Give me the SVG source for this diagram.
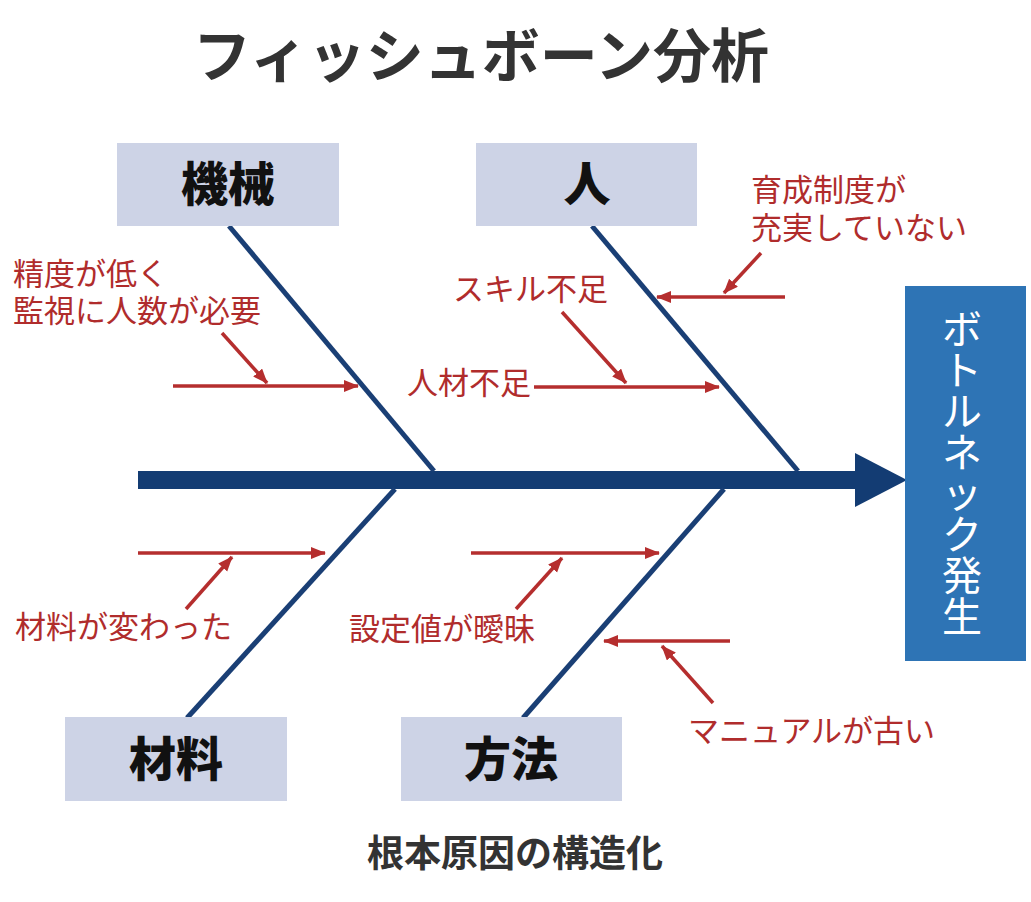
<svg xmlns="http://www.w3.org/2000/svg" width="1031" height="902" viewBox="0 0 1031 902">
<style>
.title{font-family:"Noto Sans CJK JP","Noto Sans",sans-serif;font-weight:700;fill:#333333}
.cat{fill:#cdd3e6}
.catt{font-family:"Noto Sans CJK JP",sans-serif;font-weight:900;font-size:47px;fill:#111111;text-anchor:middle}
.lbl{font-family:"Noto Sans CJK JP",sans-serif;font-size:31px;fill:#b02c2c}
.bone{stroke:#1a3f75;stroke-width:5;fill:none}
.ra{stroke:#b52e2e;stroke-width:3.5;fill:none;marker-end:url(#ah)}
.vt{font-family:"Noto Sans CJK JP",sans-serif;font-size:40px;fill:#ffffff;writing-mode:vertical-rl;text-orientation:upright;letter-spacing:1px;font-feature-settings:"vert" 0,"vrt2" 0}
</style>
<defs>
<marker id="ah" markerUnits="userSpaceOnUse" markerWidth="16" markerHeight="14" refX="14" refY="6" orient="auto">
<path d="M0,0 L15,6 L0,12 Z" fill="#b52e2e"/>
</marker>
</defs>
<rect width="1031" height="902" fill="#ffffff"/>
<text class="title" x="481" y="77" font-size="58" text-anchor="middle">フィッシュボーン分析</text>

<g id="connectors">
<rect x="138" y="471" width="718" height="18" fill="#133c73"/>
<polygon points="855,453 907,480 855,507" fill="#133c73"/>
<line class="bone" x1="229" y1="226" x2="434" y2="471"/>
<line class="bone" x1="592" y1="226" x2="798" y2="471"/>
<line class="bone" x1="187" y1="718" x2="395" y2="489"/>
<line class="bone" x1="523" y1="718" x2="724" y2="489"/>
<line class="ra" x1="173" y1="386" x2="358" y2="386"/>
<line class="ra" x1="222" y1="333" x2="267" y2="383"/>
<line class="ra" x1="534" y1="387" x2="719" y2="387"/>
<line class="ra" x1="562" y1="312" x2="626" y2="383"/>
<line class="ra" x1="785" y1="297" x2="657" y2="297"/>
<line class="ra" x1="761" y1="253" x2="724" y2="293"/>
<line class="ra" x1="138" y1="553" x2="325" y2="553"/>
<line class="ra" x1="186" y1="609" x2="232" y2="557"/>
<line class="ra" x1="471" y1="553" x2="659" y2="553"/>
<line class="ra" x1="516" y1="609" x2="562" y2="558"/>
<line class="ra" x1="730" y1="641" x2="604" y2="641"/>
<line class="ra" x1="713" y1="703" x2="662" y2="646"/>
</g>

<g id="node-kikai">
<rect class="cat" x="117" y="143" width="222" height="83"/>
<text class="catt" x="228" y="201">機械</text>
</g>
<g id="node-hito">
<rect class="cat" x="476" y="143" width="221" height="83"/>
<text class="catt" x="587" y="201">人</text>
</g>
<g id="node-zairyo">
<rect class="cat" x="65" y="717" width="222" height="84"/>
<text class="catt" x="176" y="776">材料</text>
</g>
<g id="node-hoho">
<rect class="cat" x="401" y="717" width="221" height="84"/>
<text class="catt" x="511" y="776">方法</text>
</g>

<g id="node-bottleneck">
<rect x="905" y="286" width="121" height="375" fill="#2e74b5"/>
<text class="vt" x="962" y="309">ボトルネック発生</text>
</g>

<g id="label-seido">
<text class="lbl" x="13" y="285">精度が低く</text>
<text class="lbl" x="13" y="322">監視に人数が必要</text>
</g>
<g id="label-jinzai"><text class="lbl" x="407" y="394">人材不足</text></g>
<g id="label-skill"><text class="lbl" x="453" y="300">スキル不足</text></g>
<g id="label-ikusei">
<text class="lbl" x="751" y="201">育成制度が</text>
<text class="lbl" x="751" y="239">充実していない</text>
</g>
<g id="label-zairyo"><text class="lbl" x="15" y="638">材料が変わった</text></g>
<g id="label-settei"><text class="lbl" x="349" y="640">設定値が曖昧</text></g>
<g id="label-manual"><text class="lbl" x="688" y="742">マニュアルが古い</text></g>

<text class="title" x="515" y="867" font-size="37" text-anchor="middle">根本原因の構造化</text>
</svg>
